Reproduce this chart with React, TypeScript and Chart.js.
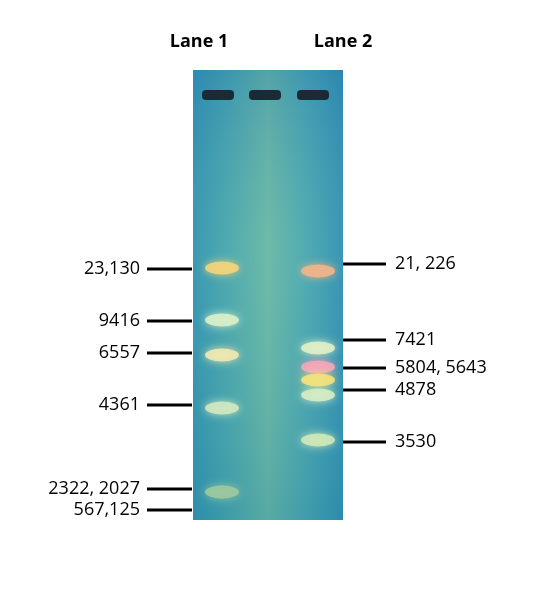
import { useRef, useEffect } from "react";
import { Chart, registerables } from "chart.js";

Chart.register(...registerables);

// page-pixel coordinate system (540 x 600)
const laneNames = ["Lane 1", "Lane 2"];
const laneX = [218, 314];
const wellX = [218, 265, 313];
const gelBox = [193, 70, 343, 520]; // x0, y0, x1, y1

const lane1Bands = [268, 320, 355, 408, 492];
const lane1Colors = ["#f3d47a", "#d8f0c8", "#f0e8b0", "#cfe8c0", "#9cc8a0"];
const lane2Bands = [271, 348, 367, 380, 395, 440];
const lane2Colors = ["#f2b48a", "#e0f0c8", "#f5a6b8", "#f4e27a", "#d5ecc4", "#cfe8b8"];

const leftLabels = ["23,130", "9416", "6557", "4361", "2322, 2027", "567,125"];
const leftY = [269, 321, 353, 405, 489, 510];
const rightLabels = ["21, 226", "7421", "5804, 5643", "4878", "3530"];
const rightY = [264, 340, 368, 390, 442];

const gelPlugin = {
  id: "gel",
  beforeDatasetsDraw(chart: any) {
    const { ctx, scales } = chart;
    const x = scales.x, y = scales.y;
    const x0 = x.getPixelForValue(gelBox[0]);
    const y0 = y.getPixelForValue(gelBox[1]);
    const x1 = x.getPixelForValue(gelBox[2]);
    const y1 = y.getPixelForValue(gelBox[3]);
    ctx.save();
    const g = ctx.createLinearGradient(x0, 0, x1, 0);
    g.addColorStop(0, "#2f93b4");
    g.addColorStop(0.25, "#4aa8b0");
    g.addColorStop(0.5, "#6cbaa8");
    g.addColorStop(0.75, "#4aa8b4");
    g.addColorStop(1, "#2e8fb6");
    ctx.fillStyle = g;
    ctx.fillRect(x0, y0, x1 - x0, y1 - y0);
    const v = ctx.createLinearGradient(0, y0, 0, y1);
    v.addColorStop(0, "rgba(40,120,170,0.35)");
    v.addColorStop(0.4, "rgba(120,190,170,0.15)");
    v.addColorStop(1, "rgba(40,130,150,0.3)");
    ctx.fillStyle = v;
    ctx.fillRect(x0, y0, x1 - x0, y1 - y0);
    // wells
    ctx.fillStyle = "#1b2a36";
    wellX.forEach((wx) => {
      const px = x.getPixelForValue(wx);
      const py = y.getPixelForValue(95);
      ctx.beginPath();
      ctx.roundRect(px - 16, py - 5, 32, 10, 4);
      ctx.fill();
    });
    // bands
    const drawBands = (lx: number, ys: number[], cols: string[]) => {
      ys.forEach((by, i) => {
        const px = x.getPixelForValue(lx + 4);
        const py = y.getPixelForValue(by);
        ctx.save();
        ctx.shadowColor = cols[i];
        ctx.shadowBlur = 8;
        ctx.fillStyle = cols[i];
        ctx.globalAlpha = 0.9;
        ctx.beginPath();
        ctx.ellipse(px, py, 17, 6.5, 0, 0, Math.PI * 2);
        ctx.fill();
        ctx.restore();
      });
    };
    drawBands(laneX[0], lane1Bands, lane1Colors);
    drawBands(laneX[1], lane2Bands, lane2Colors);
    ctx.restore();
  },
  afterDatasetsDraw(chart: any) {
    const { ctx, scales } = chart;
    const x = scales.x, y = scales.y;
    ctx.save();
    ctx.fillStyle = "#000";
    ctx.textBaseline = "middle";
    ctx.font = "bold 18px 'Open Sans'";
    ctx.textAlign = "center";
    laneNames.forEach((n, i) => {
      ctx.fillText(n, x.getPixelForValue([199, 343][i]), y.getPixelForValue(42));
    });
    ctx.font = "18px 'Open Sans'";
    ctx.textAlign = "right";
    leftLabels.forEach((t, i) => ctx.fillText(t, x.getPixelForValue(140), y.getPixelForValue(leftY[i])));
    ctx.textAlign = "left";
    rightLabels.forEach((t, i) => ctx.fillText(t, x.getPixelForValue(395), y.getPixelForValue(rightY[i])));
    ctx.restore();
  },
};

export default function App() {
  const ref = useRef<HTMLCanvasElement | null>(null);

  useEffect(() => {
    if (!ref.current) return;
    document.body.style.margin = "0";
    const lines: any[] = [];
    leftY.forEach((v) =>
      lines.push({ data: [{ x: 147, y: v }, { x: 192, y: v }], borderColor: "#000", borderWidth: 3, pointRadius: 0, showLine: true })
    );
    rightY.forEach((v) =>
      lines.push({ data: [{ x: 343, y: v }, { x: 386, y: v }], borderColor: "#000", borderWidth: 3, pointRadius: 0, showLine: true })
    );
    const chart = new Chart(ref.current, {
      type: "scatter",
      data: { datasets: lines },
      options: {
        animation: false,
        responsive: false,
        layout: { padding: 0 },
        plugins: { legend: { display: false }, tooltip: { enabled: false } },
        scales: {
          x: { type: "linear", min: 0, max: 540, display: false },
          y: { type: "linear", min: 0, max: 600, reverse: true, display: false },
        },
      },
      plugins: [gelPlugin],
    });
    return () => chart.destroy();
  }, []);

  return <canvas ref={ref} width={540} height={600} style={{ display: "block", background: "#fff" }} />;
}
